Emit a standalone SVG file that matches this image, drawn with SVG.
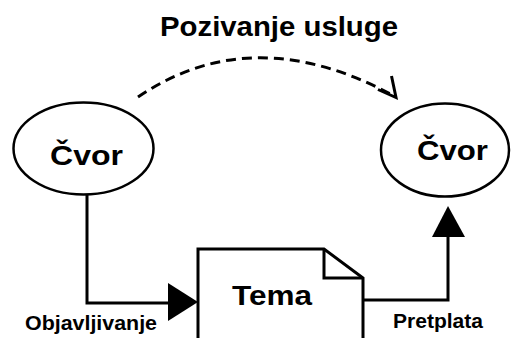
<svg xmlns="http://www.w3.org/2000/svg" width="512" height="338" viewBox="0 0 512 338">
  <style>
    .node { fill: #ffffff; stroke: #000000; stroke-width: 2.5; }
    .big { font-family: "Liberation Sans", Arial, sans-serif; font-weight: bold; font-size: 28px; fill: #000000; }
    .lbl { font-family: "Liberation Sans", Arial, sans-serif; font-weight: bold; font-size: 21px; fill: #000000; }
    .line { fill: none; stroke: #000000; stroke-width: 3; }
    .dash { fill: none; stroke: #000000; stroke-width: 3; stroke-dasharray: 10 6; }
    .head { fill: #000000; stroke: none; }
  </style>
  <rect width="512" height="338" fill="#ffffff"/>
  <text class="big" x="160" y="36" font-size="28" textLength="238" lengthAdjust="spacingAndGlyphs">Pozivanje usluge</text>

  <g id="connectors">
    <path class="dash" d="M138,97 Q253,19 394,96"/>
    <polyline class="line" points="391.5,76 396,97.5 378,89.5"/>
    <polyline class="line" points="87,195 87,303 172,303"/>
    <polygon class="head" points="168,283 198,302 168,321"/>
    <polyline class="line" points="363,300 448,300 448,234"/>
    <polygon class="head" points="432,237 448,206 465,237"/>
  </g>

  <g id="node-left">
    <ellipse class="node" cx="83.5" cy="148.5" rx="70" ry="46"/>
    <text class="big" x="50" y="165" textLength="73" lengthAdjust="spacingAndGlyphs">Čvor</text>
  </g>

  <g id="node-right">
    <ellipse class="node" cx="445" cy="150" rx="64" ry="46.5"/>
    <text class="big" x="417" y="160" textLength="71" lengthAdjust="spacingAndGlyphs">Čvor</text>
  </g>

  <g id="node-tema">
    <path class="line" d="M198,345 L198,249 L324,249 L363,278 L363,345"/>
    <polyline class="line" points="324,249 324,278 363,278"/>
    <text class="big" x="232" y="305" textLength="80" lengthAdjust="spacingAndGlyphs">Tema</text>
  </g>

  <g id="labels">
    <text class="lbl" x="25" y="330" textLength="132" lengthAdjust="spacingAndGlyphs">Objavljivanje</text>
    <text class="lbl" x="393" y="328" textLength="90" lengthAdjust="spacingAndGlyphs">Pretplata</text>
  </g>
</svg>
